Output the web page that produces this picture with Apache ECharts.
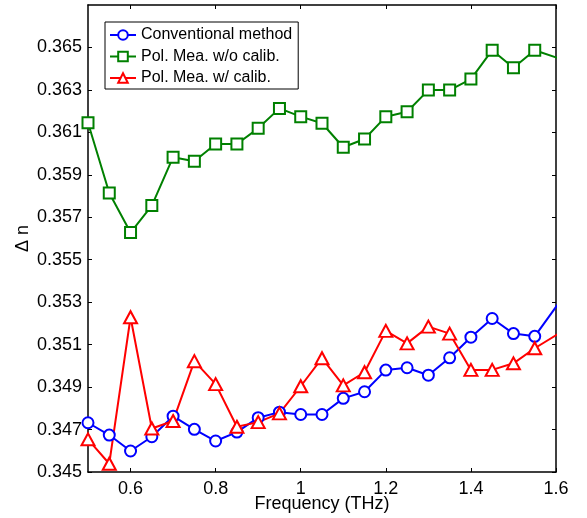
<!DOCTYPE html>
<html>
<head>
<meta charset="utf-8">
<script src="https://cdn.jsdelivr.net/npm/echarts@6/dist/echarts.min.js"></script>
<style>
html,body{margin:0;padding:0;background:#fff;}
#chart{width:587px;height:518px;}
</style>
</head>
<body>
<div id="chart"></div>
<script>
// Data (frequency in THz); last point lies just past the axis edge and is clipped
var freq = [0.5,0.55,0.6,0.65,0.7,0.75,0.8,0.85,0.9,0.95,1.0,1.05,1.1,1.15,1.2,1.25,1.3,1.35,1.4,1.45,1.5,1.55,1.65];
var conventional = [0.34732,0.34674,0.34599,0.34666,0.34763,0.34701,0.34646,0.34688,0.34756,0.34782,0.34771,0.34771,0.34847,0.34878,0.34980,0.34991,0.34956,0.35038,0.35135,0.35223,0.35152,0.35139,0.35417];
var polNoCalib = [0.36145,0.35814,0.35628,0.35755,0.35983,0.35964,0.36045,0.36045,0.36119,0.36213,0.36174,0.36143,0.36030,0.36069,0.36174,0.36197,0.36299,0.36299,0.36351,0.36487,0.36404,0.36487,0.36419];
var polCalib = [0.34654,0.34539,0.35229,0.34705,0.34740,0.35022,0.34914,0.34713,0.34735,0.34776,0.34904,0.35036,0.34908,0.34970,0.35165,0.35106,0.35185,0.35152,0.34981,0.34981,0.35012,0.35083,0.35205];
var seriesNames = ['Conventional method','Pol. Mea. w/o calib.','Pol. Mea. w/ calib.'];
var xTicks = [0.6,0.8,1.0,1.2,1.4,1.6];
var yTicks = [0.345,0.347,0.349,0.351,0.353,0.355,0.357,0.359,0.361,0.363,0.365];

function pairs(xs, ys){ return xs.map(function(x,i){ return [x, ys[i]]; }); }

var font = '"Liberation Sans", Arial, Helvetica, sans-serif';
var chart = echarts.init(document.getElementById('chart'), null, {renderer:'canvas'});

var axisLine = {show:true, onZero:false, lineStyle:{color:'#000', width:1.5}};
var tickLine = {color:'#000', width:1};

var option = {
  backgroundColor:'#fff',
  animation:false,
  grid:{left:88, top:5, width:468, height:468, containLabel:false},
  legend:{
    orient:'vertical', left:105, top:22,
    data:seriesNames,
    backgroundColor:'#fff', borderColor:'#000', borderWidth:1,
    padding:[5,6,3,4], itemWidth:26, itemHeight:12, itemGap:5.5,
    textStyle:{fontFamily:font, fontSize:16, color:'#000'}
  },
  xAxis:[{
    type:'value', min:0.5, max:1.6, position:'bottom',
    name:'Frequency (THz)', nameLocation:'middle', nameGap:23, nameMoveOverlap:false,
    nameTextStyle:{fontFamily:font, fontSize:18, color:'#000'},
    axisLine:axisLine,
    axisTick:{show:true, inside:true, length:4, customValues:xTicks, lineStyle:tickLine},
    axisLabel:{show:true, customValues:xTicks, margin:8, fontFamily:font, fontSize:18, color:'#000',
      formatter:function(v){ return String(Math.round(v*10)/10); }},
    splitLine:{show:false}
  },{
    type:'value', min:0.5, max:1.6, position:'top',
    axisLine:axisLine,
    axisTick:{show:true, inside:true, length:4, customValues:xTicks, lineStyle:tickLine},
    axisLabel:{show:false}, splitLine:{show:false}
  }],
  yAxis:[{
    type:'value', min:0.345, max:0.367, position:'left',
    name:'\u0394 n', nameLocation:'middle', nameGap:56, nameRotate:90, nameMoveOverlap:false,
    nameTextStyle:{fontFamily:font, fontSize:18, color:'#000'},
    axisLine:axisLine,
    axisTick:{show:true, inside:true, length:4, customValues:yTicks, lineStyle:tickLine},
    axisLabel:{show:true, customValues:yTicks, margin:6, fontFamily:font, fontSize:18, color:'#000',
      formatter:function(v){ return v.toFixed(3); }},
    splitLine:{show:false}
  },{
    type:'value', min:0.345, max:0.367, position:'right',
    axisLine:axisLine,
    axisTick:{show:true, inside:true, length:4, customValues:yTicks, lineStyle:tickLine},
    axisLabel:{show:false}, splitLine:{show:false}
  }],
  series:[{
    name:seriesNames[0], type:'line', data:pairs(freq, conventional), clip:true,
    symbol:'circle', symbolSize:11, showAllSymbol:true,
    lineStyle:{color:'#0000ff', width:2},
    itemStyle:{color:'#fff', borderColor:'#0000ff', borderWidth:2},
    color:'#0000ff'
  },{
    name:seriesNames[1], type:'line', data:pairs(freq, polNoCalib), clip:true,
    symbol:'rect', symbolSize:11, showAllSymbol:true,
    lineStyle:{color:'#008000', width:2},
    itemStyle:{color:'#fff', borderColor:'#008000', borderWidth:2},
    color:'#008000'
  },{
    name:seriesNames[2], type:'line', data:pairs(freq, polCalib), clip:true,
    symbol:'triangle', symbolSize:[13,12], showAllSymbol:true,
    lineStyle:{color:'#ff0000', width:2},
    itemStyle:{color:'#fff', borderColor:'#ff0000', borderWidth:2},
    color:'#ff0000'
  }]
};
chart.setOption(option);
</script>
</body>
</html>
